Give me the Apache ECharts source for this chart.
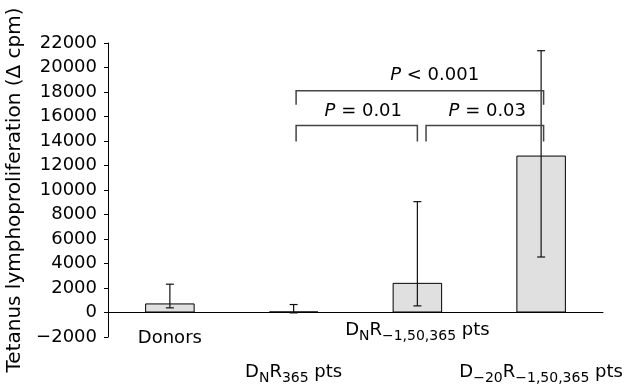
<!DOCTYPE html>
<html>
<head>
<meta charset="utf-8">
<script src="https://cdn.jsdelivr.net/npm/echarts@6/dist/echarts.min.js"></script>
<style>html,body{margin:0;padding:0;background:#fff}#c{width:634px;height:386px}</style>
</head>
<body>
<div id="c"></div>
<script>
// ---- data ----
const categories = ['Donors', 'DNR365 pts', 'DNR\u22121,50,365 pts', 'D\u221220R\u22121,50,365 pts'];
const categoryRich = [
  '{a|Donors}',
  '{b|D}{bs|N}{b|R}{bs|365}{b| pts}',
  '{c|D}{cs|N}{c|R}{cs|\u22121,50,365}{c| pts}',
  '{b|D}{bs|\u221220}{b|R}{bs|\u22121,50,365}{b| pts}'
];
const means = [740, 80, 2420, 12810];
const errLow = [380, -30, 540, 4530];
const errHigh = [2310, 650, 9050, 21370];
const yTicks = { min: -2000, max: 22000, interval: 2000 };
const bracketFrom = [1.02, 1.02, 2.07];
const bracketTo = [3.02, 2.0, 3.02];
const bracketTop = [18110, 15260, 15260];
const bracketLeg = [16960, 13950, 13950];
const pText = [' < 0.001', ' = 0.01', ' = 0.03'];
const pTextX = [2.14, 1.563, 2.565];
const pTextY = [19400, 16400, 16400];

const FONT = 'DejaVu Sans';
const FS = 18;
const SUB = 14;

function tok(pad, size) {
  return { fontFamily: FONT, fontSize: size, color: '#000', verticalAlign: 'top', padding: [pad, 0, 0, 0] };
}

const chart = echarts.init(document.getElementById('c'), null, { renderer: 'canvas' });
chart.setOption({
  animation: false,
  grid: { left: 108, right: 31, top: 43, bottom: 49, containLabel: false, outerBoundsMode: 'none' },
  xAxis: [
    {
      type: 'category',
      data: categories,
      axisLine: { onZero: true, lineStyle: { color: '#000', width: 1 } },
      axisTick: { show: false },
      axisLabel: {
        interval: 0,
        margin: -20,
        formatter: function (v, i) { return categoryRich[i]; },
        rich: {
          a: tok(12, FS),
          b: tok(46, FS),
          bs: tok(54, SUB),
          c: tok(4, FS),
          cs: tok(12, SUB)
        }
      },
      splitLine: { show: false }
    },
    {
      type: 'value', min: -0.5, max: 3.5, show: false
    }
  ],
  yAxis: {
    type: 'value',
    min: yTicks.min, max: yTicks.max, interval: yTicks.interval,
    name: 'Tetanus lymphoproliferation (\u0394 cpm)',
    nameLocation: 'middle',
    nameGap: 83,
    nameTextStyle: { fontFamily: FONT, fontSize: 20, color: '#000' },
    axisLine: { show: true, onZero: false, lineStyle: { color: '#000', width: 1 } },
    axisTick: { show: true, length: 4, lineStyle: { color: '#000' } },
    axisLabel: {
      margin: 11, fontFamily: FONT, fontSize: FS, color: '#000',
      formatter: function (v) { return String(v).replace('-', '\u2212'); }
    },
    splitLine: { show: false }
  },
  series: [
    {
      type: 'bar',
      data: means,
      barWidth: '40%',
      itemStyle: { color: '#e0e0e0', borderColor: '#000', borderWidth: 1 }
    },
    {
      type: 'custom',
      xAxisIndex: 0,
      data: means.map(function (m, i) { return [i, errLow[i], errHigh[i]]; }),
      encode: { x: 0, y: [1, 2] },
      renderItem: function (params, api) {
        const lo = api.coord([api.value(0), api.value(1)]);
        const hi = api.coord([api.value(0), api.value(2)]);
        const c = 4;
        const st = { stroke: '#111', lineWidth: 1.2 };
        return {
          type: 'group',
          children: [
            { type: 'line', shape: { x1: lo[0], y1: lo[1], x2: hi[0], y2: hi[1] }, style: st },
            { type: 'line', shape: { x1: lo[0] - c, y1: lo[1], x2: lo[0] + c, y2: lo[1] }, style: st },
            { type: 'line', shape: { x1: hi[0] - c, y1: hi[1], x2: hi[0] + c, y2: hi[1] }, style: st }
          ]
        };
      },
      z: 5
    },
    {
      type: 'custom',
      xAxisIndex: 1,
      data: bracketFrom.map(function (f, i) { return [f, bracketTo[i], bracketTop[i], bracketLeg[i], pTextX[i], pTextY[i]]; }),
      encode: { x: [0, 1], y: [2, 3] },
      renderItem: function (params, api) {
        const i = params.dataIndex;
        const a = api.coord([api.value(0), api.value(3)]);
        const b = api.coord([api.value(0), api.value(2)]);
        const cc = api.coord([api.value(1), api.value(2)]);
        const d = api.coord([api.value(1), api.value(3)]);
        const t = api.coord([api.value(4), api.value(5)]);
        return {
          type: 'group',
          children: [
            { type: 'polyline', shape: { points: [a, b, cc, d] }, style: { stroke: '#444', lineWidth: 1.5, fill: null } },
            {
              type: 'text', x: t[0], y: t[1],
              style: {
                text: '{i|P}{n|' + pText[i] + '}',
                align: 'center', verticalAlign: 'middle',
                rich: {
                  i: { fontFamily: FONT, fontSize: FS, fontStyle: 'italic', fill: '#000' },
                  n: { fontFamily: FONT, fontSize: FS, fill: '#000' }
                }
              }
            }
          ]
        };
      },
      z: 5
    }
  ]
});
</script>
</body>
</html>
